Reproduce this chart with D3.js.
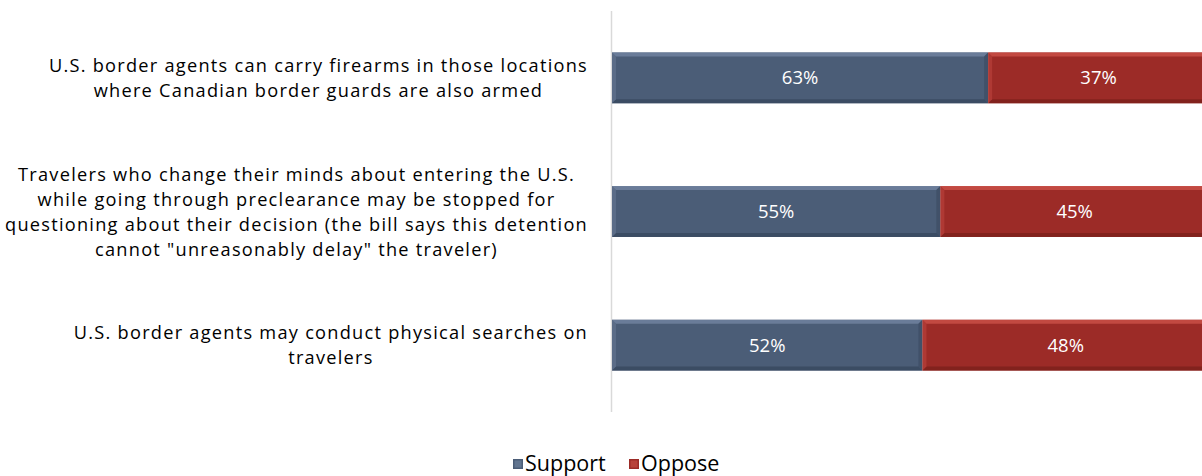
<!DOCTYPE html>
<html><head><meta charset="utf-8">
<script src="https://cdn.jsdelivr.net/npm/d3@7"></script>
<style>body{margin:0;background:#fff}svg{display:block}</style>
</head><body>
<svg id="chart" width="1202" height="476"></svg>
<script>
const categories = [
  ["U.S. border agents can carry firearms in those locations", "where Canadian border guards are also armed"],
  ["Travelers who change their minds about entering the U.S.", "while going through preclearance may be stopped for", "questioning about their decision (the bill says this detention", "cannot \"unreasonably delay\" the traveler)"],
  ["U.S. border agents may conduct physical searches on", "travelers"]
];
const seriesNames = ["Support", "Oppose"];
const support = [63, 55, 52];
const oppose = [37, 45, 48];

const colors = {Support: "#4b5d77", Oppose: "#9c2b27"};
const light = {Support: "#7285a1", Oppose: "#cc5148"};
const dark = {Support: "#3a4a60", Oppose: "#7f211d"};
const font = "'Open Sans', sans-serif";

const svg = d3.select("#chart");
const x = d3.scaleLinear().domain([0, 100]).range([612, 1209]);
const y = d3.scaleBand().domain(d3.range(categories.length)).range([11, 412]).paddingInner(0.62).paddingOuter(0.31);

svg.append("line").attr("x1", 611.5).attr("x2", 611.5).attr("y1", 11).attr("y2", 412)
  .attr("stroke", "#d9d9d9").attr("stroke-width", 1.5);

const stacked = d3.stack().keys(seriesNames)(categories.map((c, i) => ({i, Support: support[i], Oppose: oppose[i]})));
const bev = 4;
stacked.forEach(layer => {
  const key = layer.key;
  const g = svg.append("g");
  layer.forEach((d, i) => {
    const x0 = x(d[0]), x1 = x(d[1]), y0 = y(i), h = y.bandwidth(), y1 = y0 + h;
    g.append("rect").attr("x", x0).attr("y", y0).attr("width", x1 - x0).attr("height", h).attr("fill", colors[key]);
    g.append("path").attr("d", `M${x0},${y0}L${x1},${y0}L${x1-bev},${y0+bev}L${x0+bev},${y0+bev}Z`).attr("fill", light[key]).attr("opacity", 0.8);
    g.append("path").attr("d", `M${x0},${y1}L${x1},${y1}L${x1-bev},${y1-bev}L${x0+bev},${y1-bev}Z`).attr("fill", dark[key]).attr("opacity", 0.9);
    g.append("path").attr("d", `M${x0},${y0}L${x0+bev},${y0+bev}L${x0+bev},${y1-bev}L${x0},${y1}Z`).attr("fill", light[key]).attr("opacity", 0.4);
    g.append("path").attr("d", `M${x1},${y0}L${x1-bev},${y0+bev}L${x1-bev},${y1-bev}L${x1},${y1}Z`).attr("fill", dark[key]).attr("opacity", 0.6);
    g.append("text").attr("x", (x0 + x1) / 2).attr("y", y0 + h / 2).attr("dy", "0.36em")
      .attr("text-anchor", "middle").attr("fill", "#fff").attr("font-family", font).attr("font-size", 18.5)
      .text((d[1] - d[0]) + "%");
  });
});

// category labels
const lineH = 25;
const labelG = svg.append("g").attr("font-family", font).attr("font-size", 18.2).attr("fill", "#000");
const texts = [];
categories.forEach((lines, i) => {
  const cy = y(i) + y.bandwidth() / 2;
  const t = labelG.append("text").attr("text-anchor", "middle");
  lines.forEach((ln, j) => {
    t.append("tspan").attr("y", cy + (j - (lines.length - 1) / 2) * lineH).attr("dy", "0.36em").text(ln);
  });
  texts.push(t);
});
let widest = 0, widestLen = 1;
labelG.selectAll("tspan").each(function(){
  const w = this.getComputedTextLength();
  if (w > widest) { widest = w; widestLen = this.textContent.length; }
});
const ls = Math.max(0, (583 - widest) / widestLen);
labelG.attr("letter-spacing", ls);
texts.forEach(t => {
  let maxW = 0;
  t.selectAll("tspan").each(function(){ maxW = Math.max(maxW, this.getComputedTextLength()); });
  t.selectAll("tspan").attr("x", 588 - maxW / 2);
});

// legend
const legend = svg.append("g").attr("font-family", font).attr("font-size", 21.5);
const legX = [513, 629];
seriesNames.forEach((s, i) => {
  const lg = legend.append("g").attr("transform", `translate(${legX[i]},459)`);
  lg.append("rect").attr("width", 10).attr("height", 10).attr("fill", colors[s]);
  lg.append("rect").attr("x", 1.5).attr("y", 1.5).attr("width", 7).attr("height", 7).attr("fill", light[s]).attr("opacity", 0.6);
  lg.append("text").attr("x", 12).attr("y", 12).attr("fill", "#000").text(s);
});
</script>
</body></html>
